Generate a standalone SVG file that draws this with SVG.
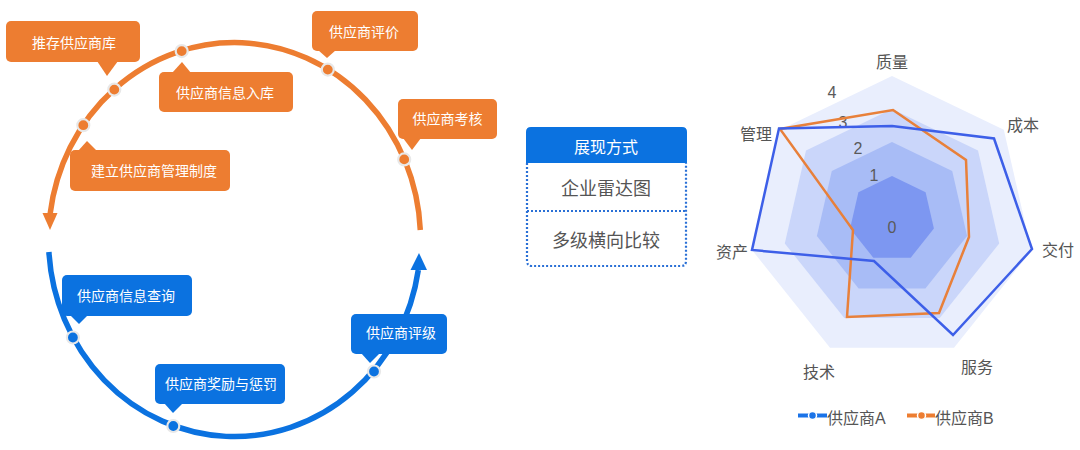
<svg xmlns="http://www.w3.org/2000/svg" width="1080" height="450" viewBox="0 0 1080 450">
<defs>
<style>
text{font-family:"Liberation Sans","Noto Sans CJK SC",sans-serif}
.ob{fill:#ED7D31}
.bb{fill:#0B72E0}
.wt{fill:#fff;font-size:14px;text-anchor:middle}
.arc{fill:none;stroke-width:5.5}
.od{fill:#ED7D31;stroke:#e8e8e8;stroke-width:2.2}
.bd{fill:#0B72E0;stroke:#e8e8e8;stroke-width:2.2}
.tb{fill:#555;font-size:18px;text-anchor:middle}
.dot{fill:none;stroke:#2A70D6;stroke-width:2.2;stroke-dasharray:2 2}
.ax{fill:#555;font-size:16px;text-anchor:middle}
.lv{fill:#5a5a5a;font-size:16px;text-anchor:middle}
.lg{fill:#555;font-size:16px}
</style>
</defs>
<rect width="1080" height="450" fill="#fff"/>

<g id="connectors">
<path class="arc" stroke="#ED7D31" d="M420.3,230 A186,197 0 0 0 50.1,214"/>
<polygon class="ob" points="42.5,213 57.5,213 50,230"/>
<path class="arc" stroke="#0B72E0" d="M48.9,252 A186,197 0 0 0 418.3,270"/>
<polygon class="bb" points="410.5,270 427,270 419,253"/>
</g>

<g id="dots">
<circle class="od" cx="181.7" cy="51.1" r="6"/>
<circle class="od" cx="114.3" cy="89.6" r="6"/>
<circle class="od" cx="83.3" cy="125.2" r="6"/>
<circle class="od" cx="327.8" cy="69.6" r="6"/>
<circle class="od" cx="404.2" cy="159.4" r="6"/>
<circle class="bd" cx="72.9" cy="337.5" r="6"/>
<circle class="bd" cx="173.3" cy="426" r="6"/>
<circle class="bd" cx="374" cy="371.5" r="6"/>
</g>

<g id="n-tuijian">
<rect class="ob" x="6" y="21" width="134" height="41" rx="5"/>
<polygon class="ob" points="97,61 118,61 107,76"/>
<text class="wt" x="74" y="48">推存供应商库</text>
</g>
<g id="n-ruku">
<rect class="ob" x="159" y="72" width="134" height="40" rx="5"/>
<polygon class="ob" points="172,73 191,73 182,62"/>
<text class="wt" x="225" y="97.5">供应商信息入库</text>
</g>
<g id="n-zhidu">
<rect class="ob" x="70" y="150" width="160" height="41" rx="5"/>
<polygon class="ob" points="78,151 97,151 87,141"/>
<text class="wt" x="154" y="175.5">建立供应商管理制度</text>
</g>
<g id="n-pingjia">
<rect class="ob" x="312" y="11" width="106" height="40" rx="5"/>
<polygon class="ob" points="318,50 336,50 327,58"/>
<text class="wt" x="364" y="36.5">供应商评价</text>
</g>
<g id="n-kaohe">
<rect class="ob" x="398" y="99" width="99" height="40" rx="5"/>
<polygon class="ob" points="403,138 421,138 412,150"/>
<text class="wt" x="447.5" y="123.5">供应商考核</text>
</g>
<g id="n-chaxun">
<rect class="bb" x="62" y="275" width="130" height="41" rx="5"/>
<polygon class="bb" points="70,315 88,315 79,324"/>
<text class="wt" x="126" y="301">供应商信息查询</text>
</g>
<g id="n-jiangli">
<rect class="bb" x="155" y="364" width="130" height="40" rx="5"/>
<polygon class="bb" points="164,403 183,403 173,413"/>
<text class="wt" x="221" y="389">供应商奖励与惩罚</text>
</g>
<g id="n-pingji">
<rect class="bb" x="351" y="314" width="96" height="40" rx="5"/>
<polygon class="bb" points="361,353 380,353 370,363"/>
<text class="wt" x="401" y="337.5">供应商评级</text>
</g>

<g id="n-table">
<path class="bb" d="M526,163 V132 Q526,127 531,127 H682 Q687,127 687,132 V163 Z"/>
<text x="606" y="153" fill="#fff" font-size="16" text-anchor="middle">展现方式</text>
<path class="dot" d="M527,163 V261 Q527,266 532,266 H681 Q686,266 686,261 V163"/>
<path class="dot" d="M527,211 H686"/>
<text class="tb" x="606" y="194.5">企业雷达图</text>
<text class="tb" x="606" y="246.5">多级横向比较</text>
</g>

<g id="n-radar">
<polygon fill="#E9EEFD" points="892,76 1003.8,129.8 1031.4,250.8 954,347.8 830,347.8 752.6,250.8 780.2,129.8"/>
<polygon fill="#CAD6FA" points="892,109 978,150.4 999.2,243.5 939.7,318.1 844.3,318.1 784.8,243.5 806,150.4"/>
<polygon fill="#A8BCF6" points="892,142 952.2,171 967.1,236.1 925.4,288.4 858.6,288.4 816.9,236.1 831.8,171"/>
<polygon fill="#7D97F1" points="892,176 925.6,192.2 933.9,228.6 910.7,257.7 873.3,257.7 850.1,228.6 858.4,192.2"/>
<text class="lv" x="832" y="98">4</text>
<text class="lv" x="843" y="127.5">3</text>
<text class="lv" x="858" y="154">2</text>
<text class="lv" x="874" y="181">1</text>
<text class="lv" x="892" y="233">0</text>
<polygon fill="none" stroke="#E8803A" stroke-width="2.5" points="893,110 966,160 969,237 939,313 847,317 853,230 780,129"/>
<polygon fill="none" stroke="#3D5FE8" stroke-width="2.5" points="892,126 994,138.5 1032,249 953,335 874,261 752,250 779,128.5"/>
<text class="ax" x="892" y="68">质量</text>
<text class="ax" x="1023" y="131">成本</text>
<text class="ax" x="1058" y="256">交付</text>
<text class="ax" x="977" y="373">服务</text>
<text class="ax" x="819" y="378">技术</text>
<text class="ax" x="732" y="258">资产</text>
<text class="ax" x="756" y="140">管理</text>
</g>

<g id="legend">
<line x1="798" y1="415.5" x2="827" y2="415.5" stroke="#1A73E8" stroke-width="4"/>
<circle cx="812.5" cy="415.5" r="4" fill="#1A73E8" stroke="#fff" stroke-width="1.5"/>
<text class="lg" x="827" y="424">供应商A</text>
<line x1="907" y1="415.5" x2="935" y2="415.5" stroke="#ED7D31" stroke-width="4"/>
<circle cx="921.5" cy="415.5" r="4" fill="#ED7D31" stroke="#fff" stroke-width="1.5"/>
<text class="lg" x="935" y="424">供应商B</text>
</g>
</svg>
